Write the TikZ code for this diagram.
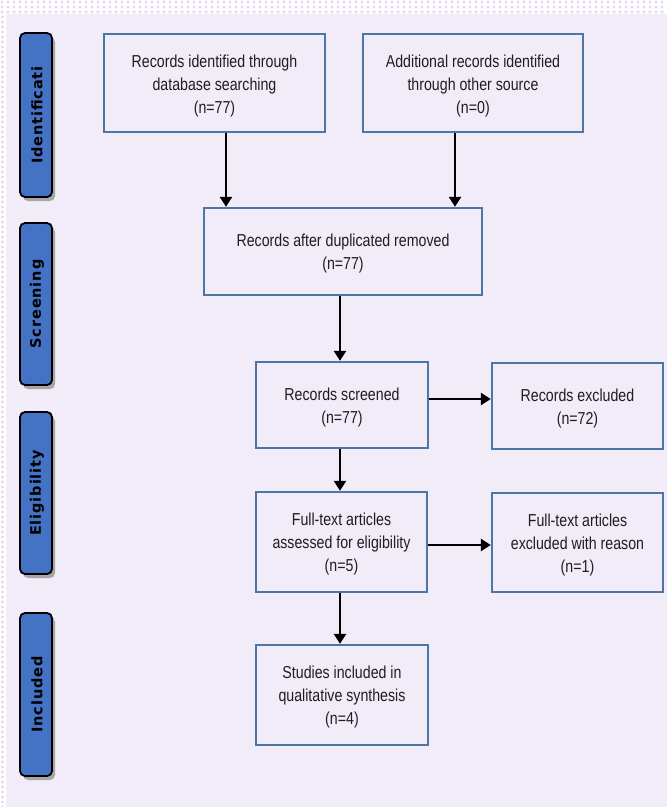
\documentclass[tikz,border=0pt]{standalone}
\usepackage{fontspec}
\setmainfont{Liberation Sans}[FakeStretch=0.82]
\newfontfamily\sidefont{DejaVu Sans}[LetterSpace=6]
\usetikzlibrary{arrows.meta,calc}
\definecolor{panelbg}{HTML}{F1ECF8}
\definecolor{dotc}{HTML}{E4D6F0}
\definecolor{boxline}{HTML}{4A77A6}
\definecolor{sideblue}{HTML}{4472C4}
\definecolor{txt}{HTML}{1E1E1E}
\begin{document}
\begin{tikzpicture}[x=1pt,y=-1pt,
  flow/.style={draw=boxline,line width=2.4pt,fill=panelbg,inner sep=0pt},
  flowtext/.style={align=center,text=txt,font=\fontsize{17.3}{23}\selectfont,inner sep=0pt},
  side/.style={draw=black,line width=1.8pt,fill=sideblue,rounded corners=5pt,
    minimum width=32pt},
  shadowbox/.style={fill=black!35,rounded corners=5pt},
  sidetext/.style={rotate=90,font=\sidefont\bfseries\fontsize{14.5}{16}\selectfont,text=black},
  arr/.style={line width=2.6pt,-{Triangle[length=10pt,width=12pt]}}]
\useasboundingbox (0,0) rectangle (667,807);
\fill[white] (0,0) rectangle (667,807);
\foreach \i in {0,...,111} {\foreach \j in {0,1,2} {\fill[dotc] (\i*6+2,\j*5+2) circle (1.6pt);}}
\foreach \j in {3,...,161} {\fill[dotc] (2.5,\j*5+2) circle (1.6pt);}
\fill[panelbg] (6,14) rectangle (667,807);
% side labels
\fill[shadowbox] (23,37) rectangle +(32,164);
\node[side,minimum height=164pt] (s1) at (36,115) {};
\fill[shadowbox] (23,227) rectangle +(32,162);
\node[side,minimum height=162pt] (s2) at (36,304) {};
\fill[shadowbox] (23,416) rectangle +(32,162);
\node[side,minimum height=162pt] (s3) at (36,493) {};
\fill[shadowbox] (23,617) rectangle +(32,163);
\node[side,minimum height=163pt] (s4) at (36,694.5) {};
\node[sidetext] (t1) at ([xshift=1pt]s1.center) {Identificati};
\node[sidetext] (t2) at ([xshift=1pt]s2.center) {Screening};
\node[sidetext] (t3) at ([xshift=1pt]s3.center) {Eligibility};
\node[sidetext] (t4) at ([xshift=1pt]s4.center) {Included};
% flow boxes
\node[flow,minimum width=221pt,minimum height=98pt] (A) at (214.5,83) {};
\node[flow,minimum width=220pt,minimum height=98pt] (B) at (473,83) {};
\node[flow,minimum width=278pt,minimum height=87pt] (C) at (343,251.5) {};
\node[flow,minimum width=172pt,minimum height=86pt] (D) at (342,405) {};
\node[flow,minimum width=171pt,minimum height=86pt] (E) at (577.5,406) {};
\node[flow,minimum width=171pt,minimum height=100pt] (F) at (341.5,542) {};
\node[flow,minimum width=171pt,minimum height=99pt] (G) at (577.5,542.5) {};
\node[flow,minimum width=172pt,minimum height=100pt] (H) at (342,695) {};
\node[flowtext] (At) at ([yshift=-3pt]A.center) {Records identified through\\database searching\\(n=77)};
\node[flowtext] (Bt) at ([yshift=-3pt]B.center) {Additional records identified\\through other source\\(n=0)};
\node[flowtext] (Ct) at ([yshift=-2.5pt]C.center) {Records after duplicated removed\\(n=77)};
\node[flowtext] (Dt) at ([yshift=-2.5pt]D.center) {Records screened\\(n=77)};
\node[flowtext] (Et) at ([yshift=-2.5pt]E.center) {Records excluded\\(n=72)};
\node[flowtext] (Ft) at ([yshift=-2.5pt]F.center) {Full-text articles\\assessed for eligibility\\(n=5)};
\node[flowtext] (Gt) at ([yshift=-2.5pt]G.center) {Full-text articles\\excluded with reason\\(n=1)};
\node[flowtext] (Ht) at ([yshift=-2.5pt]H.center) {Studies included in\\qualitative synthesis\\(n=4)};
% arrows
\coordinate (xa) at (226,0);
\coordinate (xb) at (455,0);
\coordinate (xc) at (340,0);
\draw[arr] (A.south -| xa) -- (C.north -| xa);
\draw[arr] (B.south -| xb) -- (C.north -| xb);
\draw[arr] (C.south -| xc) -- (D.north -| xc);
\draw[arr] (D.east) ++(0,-6) coordinate (d1) -- (E.west |- d1);
\draw[arr] (D.south -| xc) -- (F.north -| xc);
\draw[arr] (F.south -| xc) -- (H.north -| xc);
\draw[arr] (F.east) ++(0,3) coordinate (f1) -- (G.west |- f1);
\end{tikzpicture}
\end{document}
